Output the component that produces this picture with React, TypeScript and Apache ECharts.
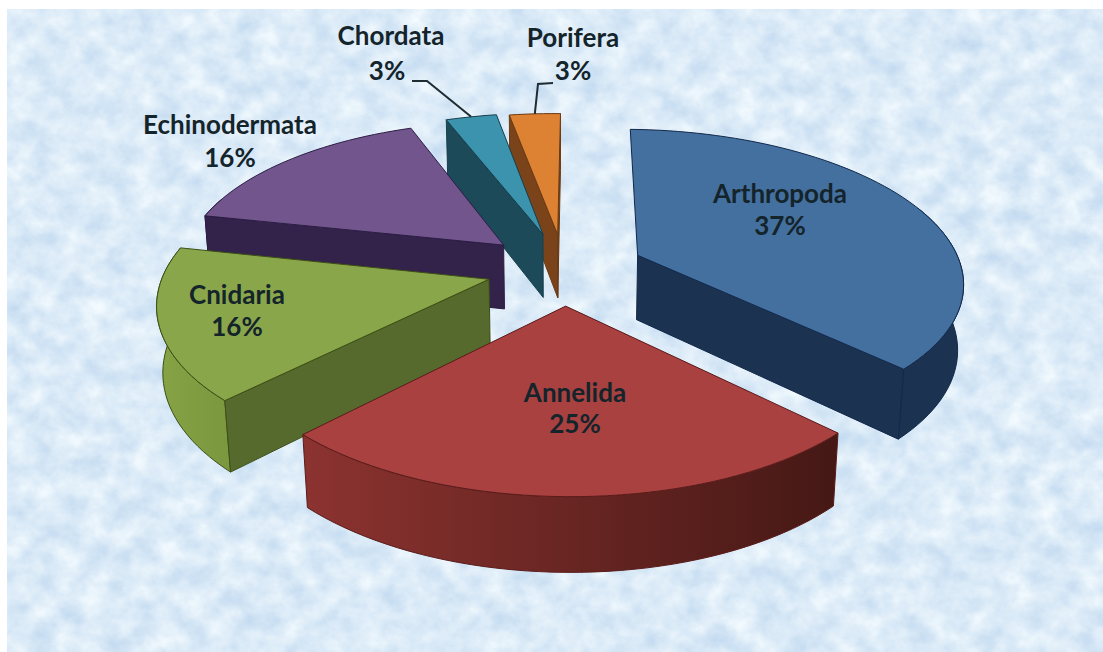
import React, { useEffect, useRef } from "react";
import * as echarts from "echarts";

const names = ["Arthropoda", "Annelida", "Cnidaria", "Echinodermata", "Chordata", "Porifera"];
const percents = [37, 25, 16, 16, 3, 3];
const topColors = ["#44709f", "#a84140", "#8aa64a", "#71558c", "#3c93ad", "#dd8233"];
const wallColors = ["#1b3350", "#4f1c19", "#566a2e", "#33224a", "#1c4a58", "#7a431a"];
const sideLeft = ["#1b3350", "#8c3330", "#86a345", "#33224a", "#1c4a58", "#7a431a"];
const sideRight = ["#1b3350", "#451815", "#7b973f", "#33224a", "#1c4a58", "#7a431a"];
const edgeColors = ["#12284a", "#5a1c1a", "#3c4f14", "#2c1d44", "#173f4c", "#6b3a14"];
const explodes = [0.25, 0.24, 0.24, 0.25, 0.25, 0.24];
const labelLine1 = [[780, 193], [575, 392], [237, 294], [230, 124], [391, 35], [573, 37]];
const labelLine2 = [[780, 225], [575, 423], [237, 326], [230, 157], [387, 70], [573, 70]];
const leaderElbows: (number[][] | null)[] = [null, null, null, null, [[412, 81], [427, 81]], [[553, 83], [538, 84]]];

const cx = 564, cy = 269, R = 324, ky = 149, depth = 66, persp = 0.152, perspZ = 0.015;
const rotation = 1.5, shearX = -5;
const rad = Math.PI / 180;

const total = percents.reduce((a, b) => a + b, 0);
let acc = 0;
const slices = percents.map((v, i) => {
  const start = acc / total * 360 + rotation;
  acc += v;
  const end = acc / total * 360 + rotation;
  return { i, start, end, mid: (start + end) / 2, e: explodes[i] };
});
const drawOrder = [...slices].sort((a, b) => Math.cos(b.mid * rad) - Math.cos(a.mid * rad)).map((s) => s.i);

function project(s: { mid: number; e: number }, theta: number, r: number, z: number): number[] {
  const X = r * Math.sin(theta * rad) + s.e * Math.sin(s.mid * rad);
  const Y = r * Math.cos(theta * rad) + s.e * Math.cos(s.mid * rad);
  const P = 1 / (1 + persp * Y + perspZ * z);
  return [cx + R * X * P + shearX * Y, cy - ky * Y * P + depth * z * P];
}
function arcPts(s: any, a: number, b: number, z: number) {
  const n = Math.max(2, Math.ceil(Math.abs(b - a) / 2));
  const out: number[][] = [];
  for (let k = 0; k <= n; k++) out.push(project(s, a + (b - a) * k / n, 1, z));
  return out;
}

function renderItem(_params: any, api: any) {
  const i = api.value(0) as number;
  const s = slices[i];
  const children: any[] = [];
  const line = { stroke: edgeColors[i], lineWidth: 1, lineJoin: "round" };
  const a = Math.max(s.start, 70), b = Math.min(s.end, 290);
  if (b > a) {
    children.push({
      type: "polygon",
      shape: { points: [...arcPts(s, a, b, 0), ...arcPts(s, b, a, 1)] },
      style: {
        ...line,
        fill: new echarts.graphic.LinearGradient(0, 0, 1, 0, [
          { offset: 0, color: sideLeft[i] },
          { offset: 1, color: sideRight[i] },
        ]),
      },
    });
  }
  const walls = [s.start, s.end].filter((t) =>
    t === s.start ? Math.sin(t * rad) < -0.01 : Math.sin(t * rad) > 0.01
  );
  walls.forEach((t) => {
    children.push({
      type: "polygon",
      shape: { points: [project(s, 0, 0, 0), project(s, t, 1, 0), project(s, t, 1, 1), project(s, 0, 0, 1)] },
      style: { ...line, fill: wallColors[i] },
    });
  });
  children.push({
    type: "polygon",
    shape: { points: [project(s, 0, 0, 0), ...arcPts(s, s.start, s.end, 0)] },
    style: { ...line, fill: topColors[i] },
  });
  const elbows = leaderElbows[i];
  if (elbows) {
    children.push({
      type: "polyline",
      shape: { points: [...elbows, project(s, s.mid, 1, 0)] },
      style: { stroke: "#1f2c33", lineWidth: 2, fill: "none" },
      z2: 5,
    });
  }
  const textStyle = (x: number, y: number, text: string) => ({
    type: "text",
    z2: 10,
    style: {
      x, y, text,
      fill: "#14242b",
      font: 'bold 26px Lato, "Open Sans", sans-serif',
      align: "center",
      verticalAlign: "middle",
    },
  });
  children.push(textStyle(labelLine1[i][0], labelLine1[i][1], names[i]));
  children.push(textStyle(labelLine2[i][0], labelLine2[i][1], percents[i] + "%"));
  return { type: "group", children };
}

const noiseSvg =
  `<svg xmlns="http://www.w3.org/2000/svg" width="1096" height="643">` +
  `<filter id="n" x="0" y="0" width="100%" height="100%" color-interpolation-filters="sRGB">` +
  `<feTurbulence type="fractalNoise" baseFrequency="0.04 0.045" numOctaves="5" seed="7"/>` +
  `<feColorMatrix type="matrix" values="0.24 0 0 0 0.74  0.16 0 0 0 0.84  0.07 0 0 0 0.935  0 0 0 0 1"/>` +
  `</filter><rect width="1096" height="643" filter="url(#n)"/></svg>`;

export default function App() {
  const ref = useRef<HTMLDivElement>(null);
  useEffect(() => {
    document.body.style.margin = "0";
    const chart = echarts.init(ref.current!, undefined, { renderer: "svg" });
    chart.setOption({
      animation: false,
      backgroundColor: "transparent",
      series: [
        {
          type: "custom",
          coordinateSystem: "none",
          silent: true,
          renderItem,
          data: drawOrder.map((i) => [i, percents[i]]),
        },
      ],
    });
    return () => chart.dispose();
  }, []);
  return (
    <div style={{ position: "relative", width: 1103, height: 652, background: "#fff", overflow: "hidden" }}>
      <div
        style={{
          position: "absolute", left: 7, top: 9, width: 1096, height: 643,
          backgroundImage: `url("data:image/svg+xml,${encodeURIComponent(noiseSvg)}")`,
          backgroundColor: "#dce9f6",
        }}
      />
      <div ref={ref} style={{ position: "absolute", left: 0, top: 0, width: 1103, height: 652 }} />
    </div>
  );
}
